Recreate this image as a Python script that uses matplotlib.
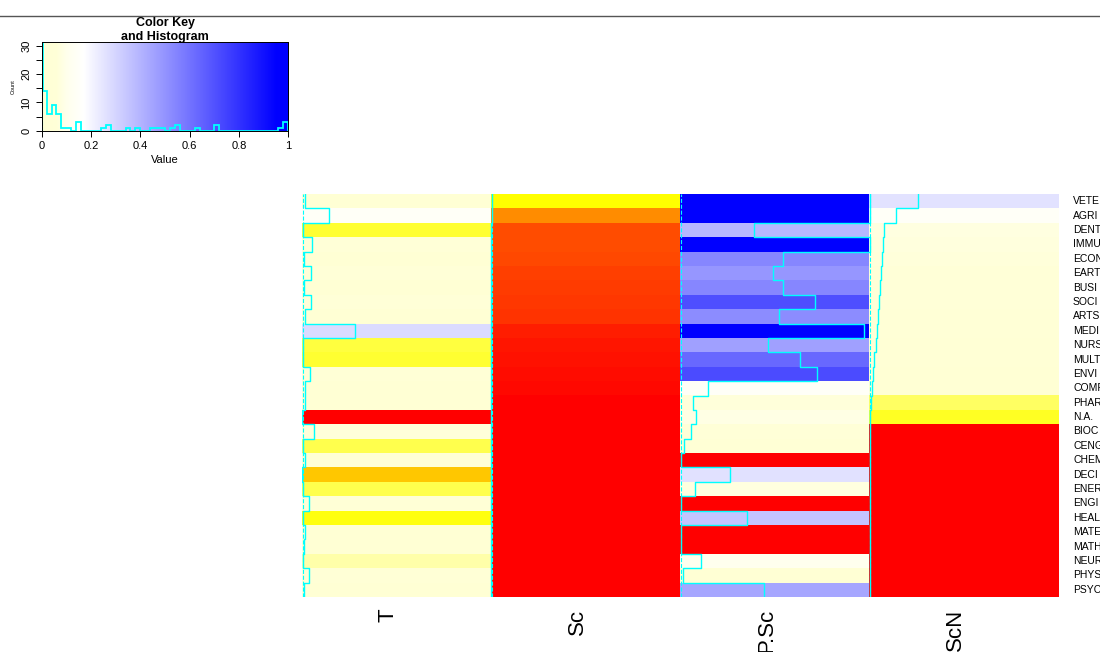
import numpy as np
import matplotlib
matplotlib.use("Agg")
import matplotlib.pyplot as plt
from matplotlib.colors import LinearSegmentedColormap, Normalize
from matplotlib.lines import Line2D

plt.rcParams["font.family"] = ["Liberation Sans", "DejaVu Sans"]

rows = ["VETE", "AGRI", "DENT", "IMMU", "ECON", "EART", "BUSI", "SOCI", "ARTS",
        "MEDI", "NURS", "MULT", "ENVI", "COMP", "PHAR", "N.A.", "BIOC", "CENG",
        "CHEM", "DECI", "ENER", "ENGI", "HEAL", "MATE", "MATH", "NEUR", "PHYS", "PSYC"]
cols = ["T", "Sc", "P.Sc", "ScN"]

t_vals = [0.018, 0.141, 0.0037, 0.055, 0.009, 0.048, 0.009, 0.048, 0.014,
          0.279, 0.0039, 0.0037, 0.042, 0.018, 0.014, 0.0, 0.063, 0.0041,
          0.018, 0.0024, 0.0041, 0.035, 0.0032, 0.014, 0.009, 0.0054, 0.035, 0.009]
sc_vals = [0.003, 0.00165, 0.00094, 0.00094, 0.00085, 0.00075, 0.0007, 0.00066, 0.00061,
           0.00038, 0.00028, 0.00024, 0.00019, 0.0001, 0.0, 0.0, 0.0, 0.0,
           0.0, 0.0, 0.0, 0.0, 0.0, 0.0, 0.0, 0.0, 0.0, 0.0]
psc_vals = [1.0, 1.0, 0.39, 1.0, 0.54, 0.49, 0.54, 0.71, 0.52,
            0.97, 0.46, 0.63, 0.72, 0.144, 0.065, 0.084, 0.056, 0.02,
            0.0, 0.26, 0.075, 0.0, 0.35, 0.0, 0.0, 0.11, 0.012, 0.44]
scn_vals = [0.257, 0.141, 0.076, 0.071, 0.065, 0.058, 0.055, 0.051, 0.046,
            0.037, 0.032, 0.023, 0.018, 0.011, 0.0044, 0.0035, 0.0, 0.0,
            0.0, 0.0, 0.0, 0.0, 0.0, 0.0, 0.0, 0.0, 0.0, 0.0]

hist_edges = [0, 0.005] + list(np.linspace(0.02, 1.0, 50))
vline = 0.003

data = np.column_stack([t_vals, sc_vals, psc_vals, scn_vals])

cmap = LinearSegmentedColormap.from_list("key", [
    (0.0, "#FF0000"), (0.003, "#FFFF00"), (0.006, "#FFFFD4"), (0.06, "#FFFFD8"),
    (0.1, "#FFFFEC"), (0.17, "#FFFFFF"), (0.95, "#0000FF"), (1.0, "#0000FF")], N=20000)
norm = Normalize(0, 1)

fig = plt.figure(figsize=(11, 6.52), dpi=100)

# heatmap
ax = fig.add_axes([302 / 1100, 1 - 597 / 652, 757 / 1100, 403 / 652])
ax.imshow(data, cmap=cmap, norm=norm, aspect="auto", interpolation="nearest",
          extent=(0, 4, 28, 0))
ybreaks = np.repeat(np.arange(len(rows) + 1), 2)[1:-1]
for j in range(len(cols)):
    ax.plot(np.repeat(j + data[:, j], 2), ybreaks, color="cyan", lw=1)
    ax.axvline(j + vline, color="cyan", ls="--", lw=0.8)
    ax.text(j + 0.455, 28.8, cols[j], rotation=90, ha="center", va="top",
            fontsize=16, clip_on=False)
ax.set_xlim(0, 4)
ax.set_ylim(28, 0)
ax.axis("off")
for i, r in enumerate(rows):
    ax.text(4.074, i + 0.5, r, ha="left", va="center", fontsize=7.5, clip_on=False)

# color key with histogram
kax = fig.add_axes([41.7 / 1100, 1 - 130.7 / 652, 246.6 / 1100, 88.4 / 652])
grad = np.linspace(0, 1, 2000).reshape(1, -1)
kax.imshow(grad, cmap=cmap, norm=norm, aspect="auto", interpolation="nearest",
           extent=(0, 1, 0, 31.3))
counts, edges = np.histogram(data.ravel(), bins=hist_edges)
kax.stairs(counts, edges, color="cyan", lw=1.3)
kax.axvline(vline, color="cyan", ls="--", lw=0.8)
kax.set_xlim(0, 1)
kax.set_ylim(0, 31.3)
kax.set_xticks([0, 0.2, 0.4, 0.6, 0.8, 1])
kax.set_xticklabels(["0", "0.2", "0.4", "0.6", "0.8", "1"])
kax.set_yticks([0, 5, 10, 15, 20, 25, 30])
kax.set_yticklabels(["0", "", "10", "", "20", "", "30"], rotation=90, va="center")
kax.tick_params(direction="out", length=4, labelsize=8, width=0.7)
kax.set_xlabel("Value", fontsize=8, labelpad=3)
kax.set_ylabel("Count", fontsize=4, labelpad=4)
for s in kax.spines.values():
    s.set_linewidth(0.7)
fig.text(165 / 1100, 1 - 30 / 652, "Color Key\nand Histogram", ha="center", va="center",
         fontsize=9, fontweight="bold", linespacing=1.3)

fig.add_artist(Line2D([0, 1], [1 - 16 / 652] * 2, color="#555555", lw=1,
                      transform=fig.transFigure))

fig.savefig("out.png", dpi=100)
